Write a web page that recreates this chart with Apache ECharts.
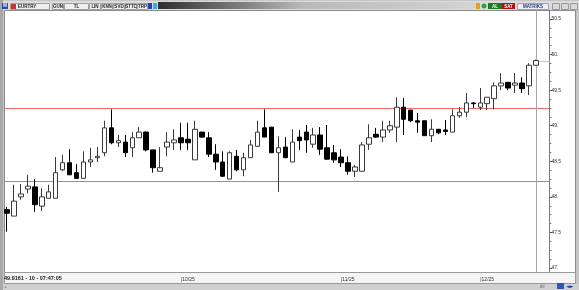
<!DOCTYPE html>
<html><head><meta charset="utf-8">
<script src="https://cdn.jsdelivr.net/npm/echarts@6/dist/echarts.min.js"></script>
<style>html,body{margin:0;padding:0;background:#c6c6c6;overflow:hidden}#c{width:579px;height:290px}</style>
</head><body><div id="c"></div>
<script>
// ---- data (EURTRY daily) ----
const dates = ['08/27','08/28','08/29',
'09/01','09/02','09/03','09/04','09/05','09/08','09/09','09/10','09/11','09/12','09/15','09/16','09/17','09/18','09/19','09/22','09/23','09/24','09/25','09/26','09/29','09/30',
'10/01','10/02','10/03','10/06','10/07','10/08','10/09','10/10','10/13','10/14','10/15','10/16','10/17','10/20','10/21','10/22','10/23','10/24','10/27','10/28','10/29','10/30','10/31',
'11/03','11/04','11/05','11/06','11/07','11/10','11/11','11/12','11/13','11/14','11/17','11/18','11/19','11/20','11/21','11/24','11/25','11/26','11/27','11/28',
'12/01','12/02','12/03','12/04','12/05','12/08','12/09','12/10','12/11'];
const open  = [47.82,47.73,48.00,48.11,48.14,47.87,47.98,47.98,48.38,48.48,48.34,48.26,48.49,48.55,48.62,48.97,48.76,48.77,48.69,48.83,
               48.91,48.66,48.36,48.70,48.76,48.83,48.81,48.52,48.91,48.83,48.60,48.49,48.25,48.57,48.38,48.55,48.71,48.97,48.98,48.62,
               48.70,48.49,48.84,48.91,48.74,48.87,48.69,48.62,48.56,48.48,48.36,48.36,48.74,48.88,48.84,48.94,48.98,49.26,49.22,49.07,
               49.07,48.86,48.95,48.94,48.91,49.14,49.19,49.32,49.26,49.31,49.38,49.56,49.61,49.57,49.60,49.56,49.85];
const close = [47.77,47.94,48.04,48.15,47.89,48.00,48.07,48.34,48.48,48.31,48.26,48.49,48.52,48.57,48.97,48.76,48.79,48.62,48.83,48.91,
               48.66,48.41,48.41,48.77,48.80,48.76,48.76,48.95,48.84,48.60,48.49,48.29,48.62,48.38,48.55,48.73,48.91,48.84,48.62,48.69,
               48.55,48.77,48.79,48.80,48.87,48.67,48.53,48.52,48.48,48.36,48.42,48.73,48.83,48.84,48.94,49.00,49.26,49.09,49.07,49.05,
               48.86,48.95,48.90,48.92,49.14,49.19,49.32,49.31,49.32,49.40,49.56,49.60,49.53,49.60,49.52,49.85,49.9161];
const high  = [47.86,48.17,48.18,48.31,48.25,48.12,48.17,48.56,48.59,48.67,48.46,48.64,48.69,48.70,49.07,49.23,48.87,48.87,48.91,48.98,
               48.92,48.66,48.70,48.91,48.95,49.04,49.04,49.07,48.91,48.91,48.74,48.64,48.64,48.66,48.62,48.80,49.07,49.23,48.98,48.85,
               48.84,48.95,48.94,49.01,48.97,48.98,49.01,48.73,48.67,48.57,48.45,48.77,49.02,48.97,49.07,49.07,49.40,49.39,49.22,49.18,
               49.07,49.09,48.95,49.08,49.23,49.26,49.46,49.33,49.53,49.40,49.61,49.74,49.61,49.74,49.68,49.88,49.93];
const low   = [47.51,47.73,47.96,48.05,47.79,47.80,47.98,47.98,48.36,48.31,48.25,48.26,48.42,48.49,48.57,48.74,48.70,48.56,48.56,48.83,
               48.64,48.34,48.36,48.57,48.66,48.66,48.66,48.52,48.83,48.56,48.38,48.28,48.25,48.36,48.29,48.55,48.70,48.84,48.62,48.07,
               48.55,48.49,48.66,48.62,48.69,48.59,48.52,48.48,48.42,48.31,48.28,48.36,48.66,48.83,48.77,48.90,48.77,48.87,49.05,48.90,
               48.86,48.77,48.88,48.87,48.91,49.11,49.12,49.25,49.22,49.22,49.23,49.50,49.50,49.46,49.46,49.43,49.85];
const levels = [49.25, 48.22];
const monthTickDates = ['10/01','11/03','12/01'];
const monthTicks = ['10/25','11/25','12/25'];
const toolbarButtons = ['GUN','TL','LIN','KNN','SVD','STTC','TRP'];

// ---- chart ----
const chart = echarts.init(document.getElementById('c'), null, {renderer:'canvas'});
const candles = dates.map((d,i)=>[open[i], close[i], low[i], high[i]]);
const FONT = 'Liberation Sans';
const RED = '#ec6a6a';
chart.setOption({
  animation:false,
  backgroundColor:'transparent',
  grid:{left:3.5, right:32.6, top:19, bottom:22, containLabel:false, outerBoundsMode:'none'},
  xAxis:{
    type:'category', data:dates.concat(['']), boundaryGap:true,
    axisLine:{show:false}, axisTick:{show:false}, splitLine:{show:false},
    axisLabel:{interval:0, hideOverlap:false, align:'left', margin:9, fontSize:5, fontFamily:FONT, color:'#333',
      formatter:(v)=>{const k=monthTickDates.indexOf(v); return k>=0 ? '|'+monthTicks[k] : '';}}
  },
  yAxis:{
    type:'value', position:'right', offset:3, min:47, max:50.5, interval:0.5, scale:true,
    axisLine:{show:true, lineStyle:{color:'#7a7a7a', width:1}},
    axisTick:{show:true, length:3, lineStyle:{color:'#555'}},
    minorTick:{show:true, splitNumber:4, length:2, lineStyle:{color:'#777'}},
    splitLine:{show:false},
    axisLabel:{margin:2, fontSize:5, fontFamily:FONT, color:'#333',
      formatter:(v)=> (Math.abs(v%1)<1e-9 ? v.toFixed(0)+'.' : String(v))}
  },
  series:[{
    type:'candlestick', data:candles, barWidth:5, z:3,
    itemStyle:{color:'#ffffff', color0:'#000000', borderColor:'#3a3a3a', borderColor0:'#000000', borderWidth:1}
  }]
});

// ---- decorative frame + data-anchored guide lines (pixels from the chart's own scales) ----
const last = dates.length-1;
const p = chart.convertToPixel({xAxisIndex:0, yAxisIndex:0}, [dates[last], close[last]]);
const axisX = 549.5;
const els = [];
els.push({type:'rect', z:-20, shape:{x:0,y:0,width:579,height:290}, style:{fill:'#c6c6c6'}});
els.push({type:'rect', z:-19, shape:{x:0,y:1,width:579,height:9}, style:{fill:'#dcdcdc'}});
els.push({type:'rect', z:-18, shape:{x:158,y:2,width:320,height:7},
  style:{fill:new echarts.graphic.LinearGradient(0,0,1,0,[{offset:0,color:'#2e2e2e'},{offset:0.45,color:'#b8b8b8'},{offset:1,color:'#d4d4d4'}])}});
els.push({type:'rect', z:-18, shape:{x:4.5,y:10.5,width:571,height:262}, style:{fill:'#ffffff', stroke:'#8a8a8a', lineWidth:1}});
els.push({type:'rect', z:-17, shape:{x:4.5,y:272.5,width:571,height:11}, style:{fill:'#f5f5f5', stroke:'#9a9a9a', lineWidth:1}});
els.push({type:'rect', z:-17, shape:{x:0,y:284,width:579,height:6}, style:{fill:'#d0d0d0'}});
els.push({type:'rect', z:-17, shape:{x:0,y:0,width:3,height:290}, style:{fill:'#a8a8a8'}});
els.push({type:'rect', z:5, shape:{x:2,y:3,width:6,height:6}, style:{fill:'#2a46a8'}});
els.push({type:'text', z:6, style:{x:5,y:6,text:'M',fill:'#fff',fontSize:4.5,fontWeight:'bold',fontFamily:FONT,align:'center',verticalAlign:'middle'}});
els.push({type:'rect', z:5, shape:{x:10.5,y:3.5,width:39,height:6}, style:{fill:'#eeeeee', stroke:'#a0a0a0', lineWidth:1}});
els.push({type:'rect', z:6, shape:{x:11,y:4,width:5,height:5}, style:{fill:'#d23030'}});
els.push({type:'text', z:6, style:{x:18,y:6.5,text:'EURTRY',fill:'#222',fontSize:4.5,fontWeight:'bold',fontFamily:FONT,verticalAlign:'middle'}});
const bx = [[52,11],[64,24],[89,11],[101,11],[113,11],[125,11],[137,10]];
toolbarButtons.forEach((t,i)=>{
  els.push({type:'rect', z:5, shape:{x:bx[i][0]+0.5,y:3.5,width:bx[i][1],height:6}, style:{fill:'#efefef', stroke:'#a0a0a0', lineWidth:1}});
  els.push({type:'text', z:6, style:{x:bx[i][0]+0.5+bx[i][1]/2,y:6.5,text:t,fill:'#222',fontSize:4.5,fontWeight:'bold',fontFamily:FONT,align:'center',verticalAlign:'middle'}});
});
els.push({type:'rect', z:5, shape:{x:148,y:3,width:4,height:6}, style:{fill:'#2040c0'}});
els.push({type:'rect', z:5, shape:{x:153,y:3,width:4,height:6}, style:{fill:'#40a8e8'}});
els.push({type:'rect', z:5, shape:{x:476,y:3,width:4,height:6}, style:{fill:'#e0a020'}});
els.push({type:'circle', z:5, shape:{cx:484,cy:6,r:2.5}, style:{fill:'#30a040'}});
els.push({type:'rect', z:5, shape:{x:488,y:3,width:14,height:6}, style:{fill:'#1c7a22'}});
els.push({type:'text', z:6, style:{x:495,y:6.5,text:'AL',fill:'#fff',fontSize:4.5,fontWeight:'bold',fontFamily:FONT,align:'center',verticalAlign:'middle'}});
els.push({type:'rect', z:5, shape:{x:502,y:3,width:13,height:6}, style:{fill:'#a81414'}});
els.push({type:'text', z:6, style:{x:508.5,y:6.5,text:'SAT',fill:'#fff',fontSize:4.5,fontWeight:'bold',fontFamily:FONT,align:'center',verticalAlign:'middle'}});
els.push({type:'rect', z:5, shape:{x:517.5,y:3.5,width:31,height:6}, style:{fill:'#eceef4', stroke:'#a0a0b0', lineWidth:1}});
els.push({type:'text', z:6, style:{x:533,y:6.5,text:'MATRIKS',fill:'#283878',fontSize:4.5,fontWeight:'bold',fontFamily:FONT,align:'center',verticalAlign:'middle'}});
[552,561,570].forEach(x=>els.push({type:'rect', z:5, shape:{x:x+0.5,y:3.5,width:7,height:6}, style:{fill:'#d8d8d8', stroke:'#9a9a9a', lineWidth:1}}));
els.push({type:'text', z:6, style:{x:4,y:278.5,text:close[last].toFixed(4)+' - 10 - 07:47:05',fill:'#1a1a1a',fontSize:5.5,fontWeight:'bold',fontFamily:FONT,verticalAlign:'middle'}});
els.push({type:'text', z:6, style:{x:4,y:287,text:'.ı.',fill:'#555',fontSize:4,fontFamily:FONT,verticalAlign:'middle'}});
els.push({type:'text', z:6, style:{x:540,y:286.5,text:'ılıl',fill:'#666',fontSize:4.5,fontFamily:FONT,verticalAlign:'middle'}});
els.push({type:'rect', z:5, shape:{x:557,y:283,width:7,height:6}, style:{fill:'#2a58c0'}});
els.push({type:'text', z:6, style:{x:566,y:286.5,text:'◄►',fill:'#2040a0',fontSize:5,fontFamily:'DejaVu Sans',verticalAlign:'middle'}});
els.push({type:'line', z:1, shape:{x1:axisX,y1:10,x2:axisX,y2:272}, style:{stroke:'#7a7a7a', lineWidth:1}});
// horizontal levels, y from the value axis
levels.forEach((v,i)=>{
  const y = Math.round(chart.convertToPixel({yAxisIndex:0}, v))+0.5;
  els.push({type:'line', id:'level'+i, z:0, shape:{x1:5,y1:y,x2:axisX-0.5,y2:y}, style:{stroke:RED, lineWidth:1, opacity:1}});
});
const vx = Math.round(p[0])+0.5;
els.push({type:'line', z:1, shape:{x1:vx,y1:10,x2:vx,y2:272}, style:{stroke:'#a6a6a6', lineWidth:1}});
const py = Math.round(p[1])+0.5;
els.push({type:'line', z:3, shape:{x1:vx+3,y1:py,x2:axisX,y2:py}, style:{stroke:'#7fe3ee', lineWidth:1}});
chart.setOption({graphic:{elements:els}});
</script></body></html>
